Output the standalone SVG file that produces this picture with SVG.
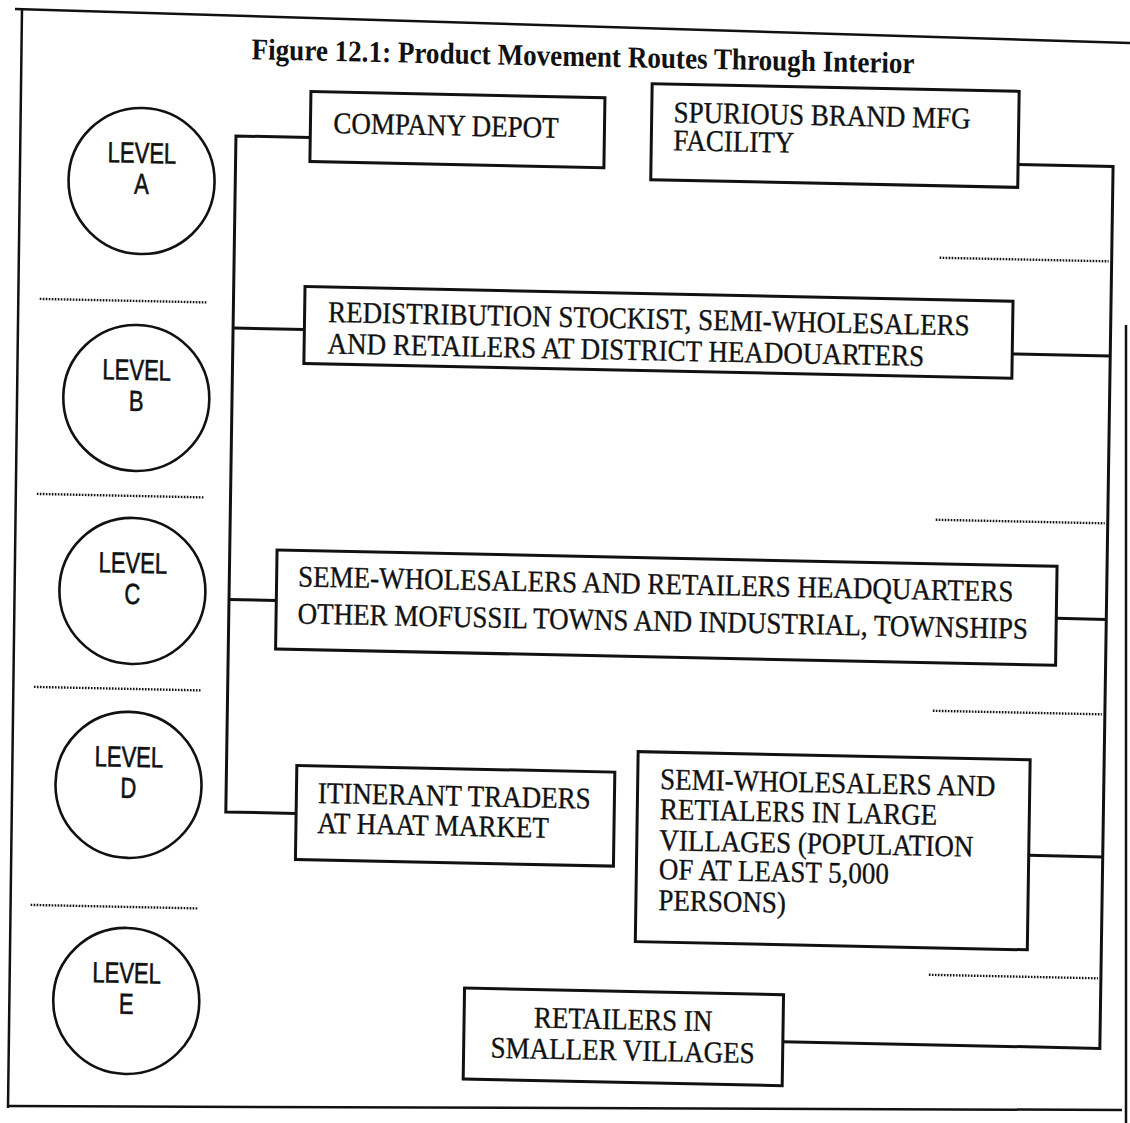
<svg xmlns="http://www.w3.org/2000/svg" width="1130" height="1123" viewBox="0 0 1130 1123">
<style>
.box{fill:none;stroke:#111;stroke-width:3}
.lvl{fill:none;stroke:#111;stroke-width:2.6}
.t{font-family:"Liberation Serif","Times New Roman",serif;font-size:30px;fill:#111;stroke:#111;stroke-width:0.35}
.tc{font-family:"Liberation Serif","Times New Roman",serif;font-size:30px;fill:#111;stroke:#111;stroke-width:0.35;text-anchor:middle}
.s{font-family:"Liberation Sans",Arial,sans-serif;font-size:29px;fill:#111;stroke:#111;stroke-width:0.6;text-anchor:middle}
.c{fill:none;stroke:#111;stroke-width:3}
.d{fill:none;stroke:#111;stroke-width:2.4;stroke-dasharray:1.6 1.4}
.f{fill:none;stroke:#111;stroke-width:2.5}
</style>
<rect width="1130" height="1123" fill="#fff"/>
<g id="frame">
<path class="f" d="M15,9 L1130,43"/>
<path class="f" d="M22,9 L8,1108"/>
<path class="f" d="M8,1106 L1122,1110"/>
<path class="f" d="M1126,325 L1126,1123"/>
</g>
<g transform="matrix(1,0.021,-0.015,1,8.4,-11.865)">
<text id="title" x="244" y="66" font-family="'Liberation Serif','Times New Roman',serif" font-size="30" font-weight="bold" fill="#111" textLength="663" lengthAdjust="spacingAndGlyphs">Figure 12.1: Product Movement Routes Through Interior</text>
<g id="dividers">
<line class="d" x1="36" y1="310" x2="203" y2="310"/>
<line class="d" x1="36" y1="505" x2="203" y2="505"/>
<line class="d" x1="36" y1="698" x2="203" y2="698"/>
<line class="d" x1="36" y1="916" x2="203" y2="916"/>
<line class="d" x1="935" y1="250" x2="1104" y2="250"/>
<line class="d" x1="935" y1="512" x2="1104" y2="512"/>
<line class="d" x1="935" y1="703" x2="1104" y2="703"/>
<line class="d" x1="935" y1="967" x2="1104" y2="967"/>
</g>
<g id="levelA"><circle class="lvl" cx="136" cy="190" r="73"/><text class="s" transform="translate(136,172) scale(0.76,1)">LEVEL</text><text class="s" transform="translate(136,203) scale(0.76,1)">A</text></g>
<g id="levelB"><circle class="lvl" cx="134" cy="407" r="73"/><text class="s" transform="translate(134,389) scale(0.76,1)">LEVEL</text><text class="s" transform="translate(134,420) scale(0.76,1)">B</text></g>
<g id="levelC"><circle class="lvl" cx="133" cy="600" r="73"/><text class="s" transform="translate(133,582) scale(0.76,1)">LEVEL</text><text class="s" transform="translate(133,613) scale(0.76,1)">C</text></g>
<g id="levelD"><circle class="lvl" cx="132" cy="794" r="73"/><text class="s" transform="translate(132,776) scale(0.76,1)">LEVEL</text><text class="s" transform="translate(132,807) scale(0.76,1)">D</text></g>
<g id="levelE"><circle class="lvl" cx="133" cy="1010" r="73"/><text class="s" transform="translate(133,992) scale(0.76,1)">LEVEL</text><text class="s" transform="translate(133,1023) scale(0.76,1)">E</text></g>
<g id="connectors">
<path class="c" d="M304,143 H229.7 V819 H300"/>
<path class="c" d="M229.7,335 H301"/>
<path class="c" d="M229.7,606.5 H277"/>
<path class="c" d="M1012,155 H1107 V1037 H790"/>
<path class="c" d="M1009,344.6 H1107"/>
<path class="c" d="M1057,608 H1107"/>
<path class="c" d="M1033,845.5 H1107"/>
</g>
<g id="companyDepot"><rect class="box" x="304" y="97" width="294" height="70"/><text class="t" transform="translate(327,138) scale(0.9,1)">COMPANY DEPOT</text></g>
<g id="spurious"><rect class="box" x="645" y="82" width="367" height="96"/><text class="t" transform="translate(667,120) scale(0.9,1)">SPURIOUS BRAND MFG</text><text class="t" transform="translate(667,148) scale(0.9,1)">FACILITY</text></g>
<g id="redistribution"><rect class="box" x="301" y="292" width="708" height="77"/><text class="t" transform="translate(324.5,327) scale(0.9,1)">REDISTRIBUTION STOCKIST, SEMI-WHOLESALERS</text><text class="t" transform="translate(324.5,358.5) scale(0.9,1)">AND RETAILERS AT DISTRICT HEADOUARTERS</text></g>
<g id="semeWholesalers"><rect class="box" x="277" y="556" width="780" height="99"/><text class="t" transform="translate(298.5,592) scale(0.9,1)">SEME-WHOLESALERS AND RETAILERS HEADQUARTERS</text><text class="t" transform="translate(298.5,629) scale(0.9,1)">OTHER MOFUSSIL TOWNS AND INDUSTRIAL, TOWNSHIPS</text></g>
<g id="itinerant"><rect class="box" x="300" y="771" width="318" height="94"/><text class="t" transform="translate(321.5,808) scale(0.9,1)">ITINERANT TRADERS</text><text class="t" transform="translate(321.5,838) scale(0.9,1)">AT HAAT MARKET</text></g>
<g id="largeVillages"><rect class="box" x="641" y="750" width="392" height="190"/><text class="t" transform="translate(663.5,787) scale(0.9,1)">SEMI-WHOLESALERS AND</text><text class="t" transform="translate(663.5,817) scale(0.9,1)">RETIALERS IN LARGE</text><text class="t" transform="translate(663.5,848) scale(0.9,1)">VILLAGES (POPULATION</text><text class="t" transform="translate(663.5,877) scale(0.9,1)">OF AT LEAST 5,000</text><text class="t" transform="translate(663.5,908) scale(0.9,1)">PERSONS)</text></g>
<g id="smallerVillages"><rect class="box" x="471" y="990" width="319" height="91"/><text class="tc" transform="translate(630,1028) scale(0.9,1)">RETAILERS IN</text><text class="tc" transform="translate(630,1059) scale(0.9,1)">SMALLER VILLAGES</text></g>
</g>
</svg>
